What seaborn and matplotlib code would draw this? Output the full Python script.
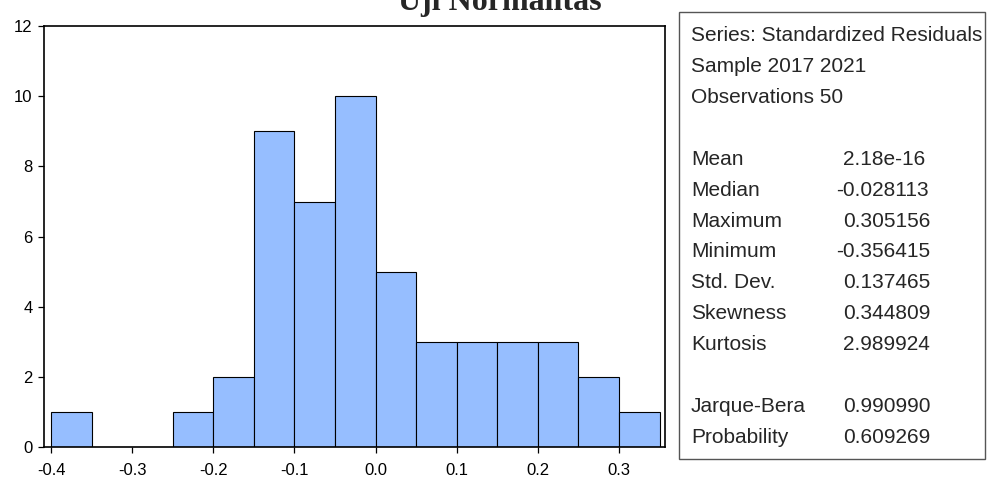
import matplotlib
matplotlib.use("Agg")
import matplotlib.pyplot as plt
import seaborn as sns
from matplotlib.patches import Rectangle

# ---- data ----
bin_edges = [-0.40, -0.35, -0.30, -0.25, -0.20, -0.15, -0.10, -0.05,
             0.00, 0.05, 0.10, 0.15, 0.20, 0.25, 0.30, 0.35]
counts = [1, 0, 0, 1, 2, 9, 7, 10, 5, 3, 3, 3, 3, 2, 1]
x_ticks = [-0.4, -0.3, -0.2, -0.1, 0.0, 0.1, 0.2, 0.3]
y_ticks = [0, 2, 4, 6, 8, 10, 12]
title = "Uji Normalitas"
header_lines = ["Series: Standardized Residuals", "Sample 2017 2021", "Observations 50"]
stat_names = ["Mean", "Median", "Maximum", "Minimum", "Std. Dev.", "Skewness", "Kurtosis"]
stat_values = ["2.18e-16", "-0.028113", "0.305156", "-0.356415", "0.137465", "0.344809", "2.989924"]
test_names = ["Jarque-Bera", "Probability"]
test_values = ["0.990990", "0.609269"]

sns.set_style("ticks")
plt.rcParams["font.family"] = ["Liberation Sans", "DejaVu Sans"]
plt.rcParams["axes.unicode_minus"] = False

W, H = 991, 482
fig = plt.figure(figsize=(W / 100, H / 100), dpi=100)

def fx(px):
    return px / W

def fy(py):
    return 1 - py / H

left, right, top, bottom = 44.3, 665, 26, 447.3
ax = fig.add_axes([fx(left), fy(bottom), fx(right - left), (bottom - top) / H])

centers = [(a + b) / 2 for a, b in zip(bin_edges[:-1], bin_edges[1:])]
sns.histplot(x=centers, weights=counts, bins=bin_edges, stat="count",
             color="#96BEFF", alpha=1, edgecolor="black", linewidth=0.8, ax=ax)

ax.set_xlim(-0.4083, 0.3567)
ax.set_ylim(0, 12)
ax.set_xticks(x_ticks)
ax.set_xticklabels([f"{v:.1f}" for v in x_ticks])
ax.set_yticks(y_ticks)
ax.set_yticklabels([str(v) for v in y_ticks])
ax.set_xlabel("")
ax.set_ylabel("")
for s in ax.spines.values():
    s.set_visible(True)
    s.set_linewidth(1.2)
    s.set_color("black")
ax.tick_params(axis="both", direction="out", length=4.5, width=0.9, labelsize=12, colors="black")
ax.tick_params(axis="y", pad=4)
ax.tick_params(axis="x", pad=7)

# title (clipped at top like the reference)
fig.text(fx(500), fy(10), title, ha="center", va="baseline",
         fontfamily="Liberation Serif", fontweight="bold", fontsize=23)

# stats box
box = Rectangle((fx(679), fy(459)), fx(985 - 679), (459 - 11.7) / H,
                transform=fig.transFigure, fill=False, edgecolor="#555555", linewidth=1.0)
fig.patches.append(box)

fs = 15
label_x = 691
val_x = 843
minus_w = 6.5
rows_header = [41, 72, 103]
for t, yb in zip(header_lines, rows_header):
    fig.text(fx(label_x), fy(yb), t, ha="left", va="baseline", fontsize=fs)
rows_stats = [165, 195.8, 226.6, 257.4, 288.2, 319, 349.8]
for n, v, yb in zip(stat_names, stat_values, rows_stats):
    fig.text(fx(label_x), fy(yb), n, ha="left", va="baseline", fontsize=fs)
    xv = val_x - (minus_w if v.startswith("-") else 0)
    fig.text(fx(xv), fy(yb), v, ha="left", va="baseline", fontsize=fs)
rows_test = [412, 442.8]
for n, v, yb in zip(test_names, test_values, rows_test):
    fig.text(fx(label_x), fy(yb), n, ha="left", va="baseline", fontsize=fs)
    fig.text(fx(val_x), fy(yb), v, ha="left", va="baseline", fontsize=fs)

fig.savefig("out.png", dpi=100)
